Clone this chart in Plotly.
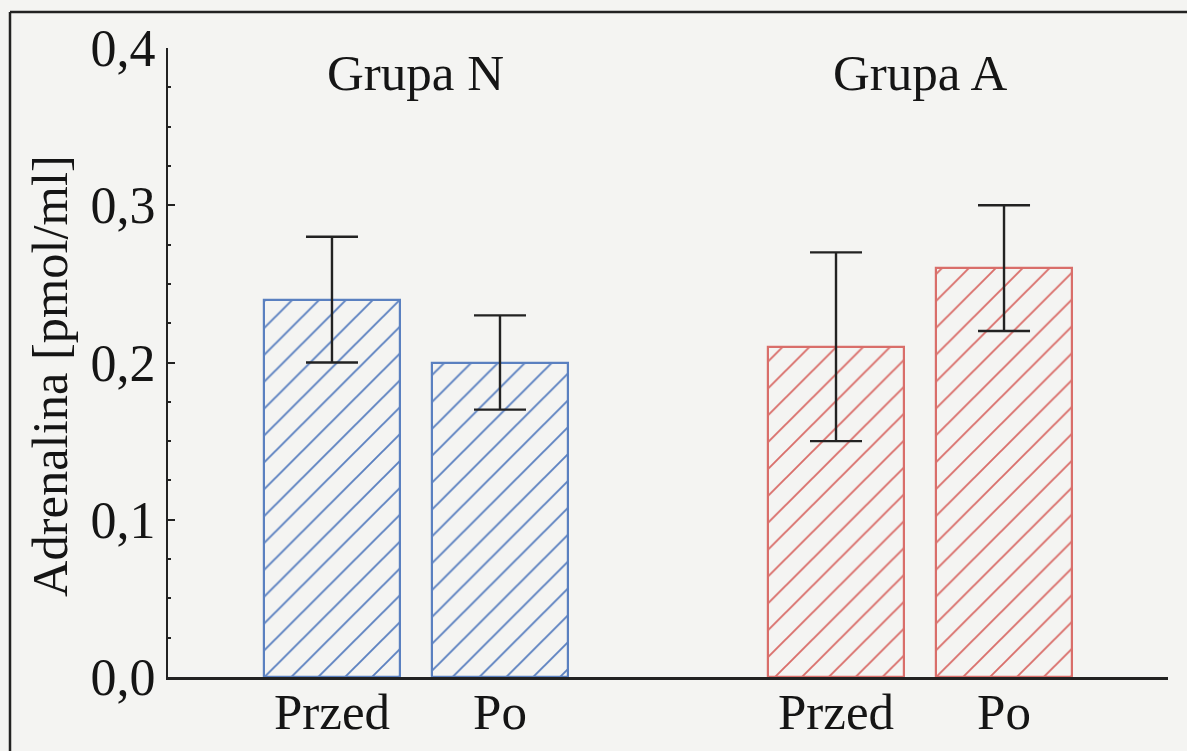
import plotly.graph_objects as go

# Adrenaline before/after, two groups
groups = ["Grupa N", "Grupa A"]
phases = ["Przed", "Po"]
means = [[0.24, 0.20], [0.21, 0.26]]
errors = [[0.04, 0.03], [0.06, 0.04]]
group_colors = ["#5a80c0", "#d96e6a"]

y_ticks = [0.0, 0.1, 0.2, 0.3, 0.4]
y_tick_labels = ["0,0", "0,1", "0,2", "0,3", "0,4"]
y_title = "Adrenalina [pmol/ml]"

FONT = "Liberation Serif, Times New Roman, serif"
INK = "#151515"

fig = go.Figure()

tick_pos, tick_txt = [], []
for g, name in enumerate(groups):
    xs = [3 * g + p for p in range(len(phases))]
    tick_pos += xs
    tick_txt += phases
    fig.add_trace(go.Bar(
        x=xs,
        y=means[g],
        width=0.81,
        name=name,
        marker=dict(
            color="rgba(0,0,0,0)",
            line=dict(color=group_colors[g], width=2.2),
            pattern=dict(shape="/", size=19, solidity=0.1,
                         fgcolor=group_colors[g], fgopacity=1,
                         bgcolor="rgba(0,0,0,0)", fillmode="overlay"),
        ),
        error_y=dict(type="data", array=errors[g], symmetric=True,
                     color="#222222", thickness=2.4, width=26),
        showlegend=False,
    ))
    fig.add_annotation(x=sum(xs) / len(xs), y=0.384, text=name,
                       showarrow=False, yanchor="middle",
                       font=dict(family=FONT, size=51, color=INK))

fig.update_layout(
    width=1187, height=751,
    margin=dict(l=168, r=19, t=48, b=74),
    paper_bgcolor="#f4f4f2",
    plot_bgcolor="#f4f4f2",
    font=dict(family=FONT, color=INK),
    bargap=0,
)

fig.update_xaxes(
    range=[-0.976, 4.976],
    tickvals=tick_pos, ticktext=tick_txt,
    tickfont=dict(family=FONT, size=51, color=INK),
    ticklabelstandoff=-12,
    showline=True, linecolor="#222222", linewidth=2.5,
    ticks="", showgrid=False, zeroline=False, automargin=False,
)

fig.update_yaxes(
    range=[0, 0.4],
    tickvals=y_ticks, ticktext=y_tick_labels,
    tickfont=dict(family=FONT, size=52, color=INK),
    showline=True, linecolor="#222222", linewidth=2,
    ticks="inside", ticklen=7, tickwidth=2, tickcolor="#222222",
    minor=dict(ticks="inside", ticklen=3, tickwidth=2, dtick=0.025,
               tickcolor="#222222"),
    showgrid=False, zeroline=False, automargin=False,
)

# vertical axis title, set a little below the plot's midpoint
fig.add_annotation(xref="paper", yref="paper", x=-118 / 1000, y=(677 - 376) / 629,
                   text=y_title, textangle=-90, showarrow=False,
                   xanchor="center", yanchor="middle",
                   font=dict(family=FONT, size=50.5, color=INK))

# outer frame (top and left edges)
fig.add_shape(type="line", xref="paper", yref="paper",
              x0=-158 / 1000, x1=1.019, y0=1 + 36 / 629, y1=1 + 36 / 629,
              line=dict(color="#222222", width=2.5))
fig.add_shape(type="line", xref="paper", yref="paper",
              x0=-158 / 1000, x1=-158 / 1000, y0=-74 / 629, y1=1 + 36 / 629,
              line=dict(color="#222222", width=2.5))

fig.write_html("out.html")
